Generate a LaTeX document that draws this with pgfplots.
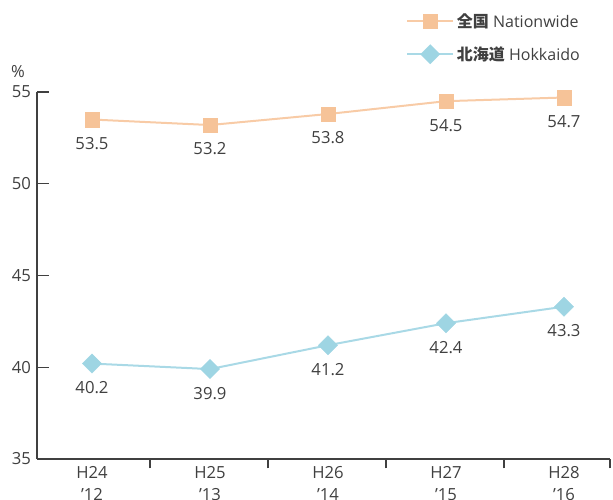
\documentclass[border=0pt]{standalone}
\usepackage{fontspec}
\setmainfont{Open Sans}
\newfontfamily\cjk{Noto Sans CJK JP}
\usepackage{pgfplots}
\pgfplotsset{compat=1.18}
\definecolor{txt}{HTML}{404040}
\definecolor{axc}{HTML}{404040}
\definecolor{nline}{HTML}{F8CBA6}
\definecolor{nmark}{HTML}{F6C398}
\definecolor{hline}{HTML}{A9D9E6}
\definecolor{hmark}{HTML}{9ED5E3}
\begin{document}
\begin{tikzpicture}
\useasboundingbox (0,0) rectangle (459.75pt,374.25pt);
\begin{axis}[
  at={(27.75pt,30pt)}, anchor=south west,
  scale only axis, width=429.75pt, height=275.25pt,
  xmin=-0.466, xmax=4.39, ymin=35, ymax=55,
  clip=false,
  axis x line*=bottom, axis y line*=left,
  axis line style={draw=axc, line width=1.1pt},
  tick align=inside,
  major tick length=9pt,
  minor tick length=7pt,
  ytick={35,40,45,50,55},
  xtick={0,1,2,3,4},
  xticklabels={{H24\\'12},{H25\\'13},{H26\\'14},{H27\\'15},{H28\\'16}},
  minor xtick={0.49,1.49,2.49,3.49,4.39},
  major x tick style={draw=none},
  minor x tick style={draw=axc, line width=1.1pt, yshift=-7pt},
  major y tick style={draw=axc, line width=1.1pt},
  /pgf/number format/assume math mode=true,
  yticklabel style={font=\fontsize{12.5}{15}\selectfont, text=txt, xshift=-1pt},
  xticklabel style={font=\fontsize{12.5}{16.5}\selectfont, text=txt, align=center, yshift=-2pt},
  nodes near coords,
  nodes near coords style={/pgf/number format/fixed, /pgf/number format/precision=1, /pgf/number format/fixed zerofill},
  every node near coord/.append style={anchor=center, yshift=-18pt, font=\fontsize{12.5}{15}\selectfont, text=txt},
  legend style={at={(axis description cs:0.644,1.148)}, anchor=west, draw=none, fill=none, inner sep=0pt,
    font=\fontsize{12}{14}\selectfont, text=txt, row sep=9pt},
  legend cell align=left,
  legend image code/.code={\draw[#1,mark=none] (0pt,0pt) -- (34.5pt,0pt); \draw[#1] plot coordinates {(17.25pt,0pt)};},
]
\addplot[color=nline, line width=1.5pt, mark=square*, mark size=5.4pt, mark options={draw=nmark, fill=nmark, line width=0.3pt}]
  coordinates {(0,53.5)(1,53.2)(2,53.8)(3,54.5)(4,54.7)};
\addlegendentry{{\cjk\bfseries 全国} Nationwide}
\addplot[color=hline, line width=1.5pt, mark=square*, mark size=5.1pt, mark options={draw=hmark, fill=hmark, rotate=45, line width=0.3pt}]
  coordinates {(0,40.2)(1,39.9)(2,41.2)(3,42.4)(4,43.3)};
\addlegendentry{{\cjk\bfseries 北海道} Hokkaido}
\node[font=\fontsize{12.5}{15}\selectfont, text=txt] at (axis description cs:-0.033,1) [yshift=15pt] {\%};
\end{axis}
\end{tikzpicture}
\end{document}
